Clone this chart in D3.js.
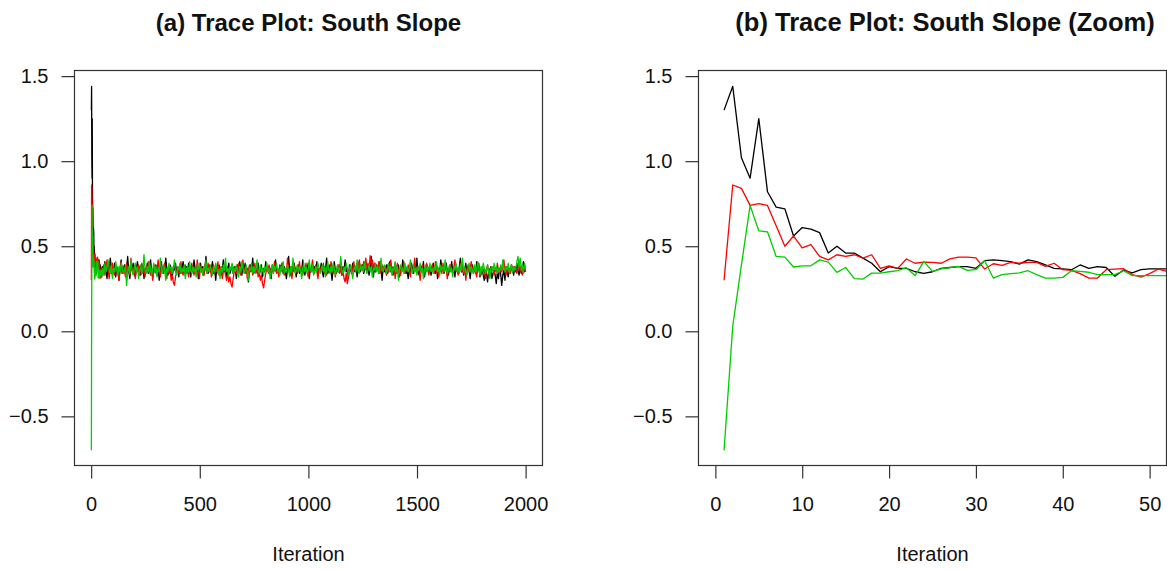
<!DOCTYPE html>
<meta charset="utf-8">
<style>
body { margin: 0; background: #fff; }
text { font-family: "Liberation Sans", Arial, Helvetica, sans-serif; fill: #111; }
.title { font-size: 24px; font-weight: bold; }
.tick-label { font-size: 20px; }
.axis-title { font-size: 20px; }
</style>
<body>
    <svg width="1167" height="569"></svg>
</body>
<script src="https://d3js.org/d3.v7.min.js"></script>
<script>
// first 52 iterations
const zoomIter = d3.range(1, 53);
const blackStart = [1.30,1.44,1.02,0.90,1.25,0.82,0.73,0.72,0.56,0.61,0.60,0.58,0.46,0.50,0.46,0.46,0.43,0.40,0.35,0.38,
    0.37,0.37,0.35,0.34,0.35,0.37,0.375,0.38,0.38,0.37,0.415,0.42,0.415,0.41,0.395,0.42,0.41,0.39,0.37,0.367,
    0.362,0.39,0.37,0.38,0.375,0.323,0.36,0.343,0.362,0.367,0.367,0.367];
const redStart = [0.30,0.86,0.84,0.74,0.75,0.74,0.62,0.50,0.56,0.49,0.51,0.44,0.42,0.45,0.44,0.45,0.43,0.45,0.37,0.385,
    0.37,0.425,0.40,0.407,0.405,0.40,0.426,0.436,0.436,0.432,0.366,0.397,0.387,0.405,0.40,0.405,0.405,0.382,0.40,0.362,
    0.358,0.339,0.313,0.313,0.362,0.366,0.368,0.333,0.319,0.339,0.366,0.352];
const greenStart = [-0.70,0.03,0.39,0.74,0.59,0.585,0.44,0.436,0.378,0.385,0.385,0.42,0.407,0.346,0.375,0.31,0.307,0.342,0.342,0.35,
    0.357,0.374,0.327,0.41,0.352,0.367,0.374,0.382,0.358,0.362,0.415,0.313,0.333,0.339,0.343,0.356,0.333,0.313,0.313,0.317,
    0.356,0.352,0.347,0.333,0.333,0.333,0.356,0.327,0.327,0.327,0.327,0.327];

// rest of the run (iterations 53 to 2000), one value read for every ~5 iterations
const tailFirst = 53, tailLast = 2000;
const blackTail = [
0.38,0.34,0.41,0.36,0.31,0.39,0.35,0.43,0.37,0.33,0.36,0.40,0.32,0.38,0.35,0.30,0.37,0.42,0.34,0.36,
0.39,0.33,0.37,0.44,0.35,0.31,0.38,0.36,0.40,0.34,0.32,0.37,0.41,0.35,0.38,0.33,0.36,0.39,0.31,0.37,
0.35,0.40,0.34,0.37,0.42,0.36,0.32,0.38,0.35,0.39,0.33,0.37,0.30,0.36,0.41,0.34,0.38,0.35,0.43,0.37,
0.33,0.36,0.39,0.34,0.31,0.38,0.36,0.40,0.35,0.37,0.32,0.39,0.34,0.37,0.41,0.36,0.33,0.38,0.35,0.40,
0.36,0.32,0.38,0.35,0.42,0.37,0.34,0.39,0.31,0.36,0.40,0.35,0.38,0.33,0.37,0.44,0.36,0.34,0.39,0.35,
0.37,0.41,0.34,0.36,0.30,0.38,0.35,0.39,0.37,0.33,0.36,0.42,0.35,0.38,0.32,0.37,0.40,0.34,0.36,0.39,
0.34,0.38,0.36,0.31,0.39,0.35,0.41,0.37,0.33,0.38,0.36,0.40,0.34,0.37,0.29,0.35,0.39,0.36,0.43,0.34,
0.38,0.35,0.37,0.40,0.33,0.36,0.39,0.32,0.37,0.35,0.41,0.36,0.38,0.34,0.37,0.31,0.39,0.35,0.36,0.42,
0.35,0.37,0.33,0.39,0.36,0.40,0.34,0.38,0.35,0.31,0.37,0.44,0.36,0.33,0.38,0.35,0.40,0.37,0.32,0.36,
0.39,0.34,0.37,0.35,0.42,0.36,0.33,0.38,0.36,0.40,0.31,0.37,0.35,0.39,0.34,0.38,0.36,0.41,0.33,0.37,
0.36,0.40,0.35,0.32,0.38,0.37,0.43,0.34,0.36,0.39,0.35,0.30,0.37,0.41,0.36,0.34,0.38,0.35,0.39,0.37,
0.33,0.38,0.36,0.42,0.35,0.37,0.31,0.39,0.36,0.34,0.40,0.37,0.35,0.38,0.32,0.36,0.41,0.35,0.37,0.39,
0.34,0.36,0.40,0.35,0.38,0.33,0.37,0.44,0.36,0.32,0.38,0.35,0.39,0.37,0.34,0.41,0.36,0.30,0.38,0.35,
0.37,0.39,0.34,0.36,0.41,0.35,0.38,0.33,0.37,0.40,0.36,0.34,0.39,0.32,0.37,0.35,0.42,0.36,0.38,0.34,
0.36,0.31,0.38,0.35,0.40,0.37,0.34,0.39,0.36,0.43,0.35,0.33,0.37,0.38,0.35,0.41,0.32,0.36,0.39,0.37,
0.35,0.38,0.33,0.37,0.40,0.36,0.34,0.39,0.31,0.37,0.35,0.42,0.36,0.38,0.34,0.37,0.40,0.35,0.33,0.38,
0.36,0.41,0.35,0.37,0.32,0.39,0.36,0.34,0.38,0.43,0.35,0.37,0.33,0.36,0.40,0.34,0.38,0.36,0.31,0.37,
0.39,0.35,0.37,0.34,0.41,0.36,0.38,0.32,0.35,0.37,0.33,0.30,0.36,0.34,0.29,0.35,0.32,0.38,0.31,0.34,
0.36,0.33,0.28,0.35,0.31,0.37,0.34,0.27,0.33,0.36,0.30,0.38,0.35,0.32,0.37,0.34,0.39,0.36,0.33,0.38,
0.35,0.40,0.36,0.33,0.38,0.34,0.37,0.41,0.35,0.36];
const redTail = [
0.35,0.39,0.33,0.37,0.42,0.36,0.31,0.38,0.34,0.40,0.36,0.33,0.39,0.35,0.37,0.30,0.36,0.41,0.34,0.38,
0.36,0.32,0.40,0.35,0.37,0.33,0.43,0.36,0.34,0.38,0.31,0.37,0.35,0.39,0.33,0.36,0.40,0.34,0.37,0.32,
0.38,0.35,0.41,0.36,0.33,0.37,0.30,0.35,0.39,0.34,0.36,0.42,0.35,0.32,0.38,0.36,0.34,0.40,0.35,0.31,
0.37,0.34,0.36,0.30,0.33,0.29,0.27,0.32,0.35,0.38,0.34,0.36,0.41,0.35,0.33,0.37,0.39,0.34,0.36,0.32,
0.38,0.35,0.40,0.36,0.33,0.37,0.34,0.42,0.36,0.31,0.38,0.35,0.37,0.33,0.39,0.36,0.34,0.40,0.35,0.37,
0.32,0.36,0.39,0.34,0.37,0.35,0.41,0.33,0.36,0.38,0.31,0.35,0.37,0.33,0.30,0.34,0.29,0.32,0.28,0.26,
0.31,0.35,0.38,0.34,0.36,0.40,0.35,0.33,0.37,0.42,0.36,0.34,0.38,0.31,0.36,0.39,0.35,0.37,0.33,0.36,
0.40,0.34,0.37,0.32,0.35,0.30,0.33,0.28,0.255,0.30,0.34,0.37,0.35,0.39,0.36,0.33,0.38,0.35,0.41,0.36,
0.34,0.37,0.32,0.38,0.35,0.40,0.36,0.33,0.37,0.35,0.43,0.36,0.34,0.38,0.31,0.36,0.39,0.35,0.37,0.34,
0.36,0.41,0.35,0.38,0.33,0.37,0.35,0.40,0.36,0.32,0.38,0.35,0.37,0.42,0.36,0.34,0.39,0.35,0.31,0.37,
0.35,0.38,0.36,0.40,0.34,0.37,0.33,0.39,0.36,0.35,0.41,0.37,0.34,0.38,0.32,0.36,0.35,0.39,0.34,0.37,
0.33,0.36,0.31,0.29,0.34,0.28,0.32,0.36,0.39,0.35,0.37,0.41,0.36,0.38,0.40,0.35,0.42,0.37,0.39,0.36,
0.41,0.38,0.43,0.37,0.40,0.36,0.445,0.39,0.42,0.37,0.40,0.35,0.38,0.36,0.41,0.34,0.37,0.39,0.35,0.38,
0.36,0.33,0.39,0.35,0.37,0.42,0.36,0.34,0.38,0.31,0.36,0.40,0.35,0.37,0.33,0.38,0.36,0.41,0.34,0.37,
0.35,0.39,0.36,0.32,0.38,0.35,0.37,0.43,0.36,0.34,0.38,0.35,0.30,0.36,0.39,0.34,0.37,0.35,0.40,0.36,
0.33,0.37,0.35,0.39,0.36,0.34,0.41,0.35,0.38,0.32,0.36,0.37,0.34,0.40,0.35,0.38,0.36,0.31,0.37,0.35,
0.39,0.36,0.34,0.38,0.42,0.35,0.37,0.33,0.36,0.40,0.35,0.38,0.34,0.37,0.30,0.36,0.39,0.35,0.37,0.41,
0.36,0.34,0.38,0.35,0.32,0.37,0.40,0.36,0.33,0.38,0.35,0.37,0.31,0.36,0.39,0.34,0.37,0.35,0.38,0.36,
0.33,0.37,0.35,0.40,0.36,0.34,0.38,0.35,0.37,0.42,0.36,0.33,0.38,0.35,0.37,0.34,0.39,0.36,0.35,0.38,
0.36,0.34,0.37,0.40,0.35,0.38,0.33,0.36,0.39,0.35];
const greenTail = [
0.37,0.33,0.40,0.35,0.38,0.42,0.36,0.34,0.39,0.31,0.37,0.35,0.41,0.36,0.33,0.38,0.35,0.40,0.37,0.34,
0.36,0.39,0.27,0.35,0.38,0.34,0.42,0.36,0.33,0.37,0.40,0.35,0.38,0.31,0.36,0.39,0.34,0.37,0.45,0.36,
0.34,0.38,0.35,0.41,0.37,0.33,0.36,0.40,0.35,0.38,0.32,0.37,0.35,0.43,0.36,0.34,0.39,0.36,0.30,0.37,
0.35,0.40,0.36,0.38,0.34,0.37,0.42,0.35,0.33,0.38,0.36,0.40,0.34,0.37,0.35,0.39,0.31,0.36,0.38,0.35,
0.41,0.36,0.34,0.38,0.35,0.37,0.32,0.39,0.36,0.40,0.35,0.37,0.33,0.38,0.36,0.42,0.34,0.37,0.35,0.39,
0.36,0.33,0.38,0.35,0.40,0.37,0.34,0.36,0.31,0.38,0.35,0.39,0.36,0.43,0.35,0.37,0.33,0.38,0.36,0.40,
0.34,0.37,0.35,0.39,0.36,0.32,0.38,0.35,0.41,0.37,0.34,0.36,0.39,0.35,0.30,0.37,0.36,0.40,0.34,0.38,
0.35,0.37,0.42,0.36,0.34,0.39,0.35,0.37,0.33,0.38,0.36,0.40,0.35,0.37,0.31,0.36,0.39,0.34,0.38,0.36,
0.40,0.35,0.37,0.33,0.38,0.36,0.41,0.34,0.37,0.35,0.39,0.36,0.32,0.38,0.35,0.43,0.37,0.34,0.36,0.39,
0.35,0.38,0.36,0.31,0.37,0.40,0.35,0.38,0.34,0.36,0.42,0.37,0.35,0.39,0.33,0.36,0.38,0.35,0.40,0.37,
0.34,0.36,0.39,0.35,0.38,0.32,0.37,0.41,0.36,0.34,0.38,0.35,0.40,0.37,0.33,0.36,0.39,0.35,0.37,0.44,
0.36,0.34,0.38,0.35,0.40,0.37,0.33,0.36,0.39,0.35,0.31,0.37,0.38,0.35,0.42,0.36,0.34,0.39,0.36,0.38,
0.35,0.41,0.37,0.34,0.36,0.39,0.35,0.38,0.32,0.37,0.36,0.40,0.35,0.38,0.34,0.37,0.43,0.36,0.35,0.39,
0.37,0.34,0.36,0.40,0.35,0.38,0.33,0.37,0.36,0.41,0.35,0.38,0.30,0.36,0.39,0.35,0.37,0.34,0.40,0.36,
0.38,0.35,0.37,0.42,0.36,0.34,0.39,0.35,0.37,0.33,0.38,0.36,0.40,0.35,0.37,0.31,0.36,0.39,0.35,0.38,
0.36,0.40,0.35,0.37,0.34,0.38,0.36,0.41,0.35,0.37,0.33,0.39,0.36,0.38,0.35,0.42,0.37,0.34,0.36,0.39,
0.35,0.37,0.32,0.38,0.36,0.40,0.35,0.37,0.34,0.39,0.36,0.43,0.35,0.38,0.36,0.33,0.37,0.40,0.35,0.38,
0.36,0.34,0.39,0.35,0.37,0.41,0.36,0.33,0.38,0.35,0.40,0.37,0.34,0.36,0.39,0.35,0.31,0.37,0.38,0.35,
0.40,0.36,0.38,0.34,0.37,0.35,0.39,0.36,0.42,0.37,0.35,0.38,0.36,0.40,0.34,0.37,0.39,0.35,0.38,0.36,
0.37,0.41,0.44,0.38,0.43,0.36,0.39,0.34,0.40,0.37];

const chainColors = ["#000000", "#ff0000", "#00cd00"];
const yTicks = [-0.5, 0.0, 0.5, 1.0, 1.5];
const leftXTicks = [0, 500, 1000, 1500, 2000];
const rightXTicks = [0, 10, 20, 30, 40, 50];
const titles = ["(a) Trace Plot: South Slope", "(b) Trace Plot: South Slope (Zoom)"];

function tailPoints(vals) {
    const step = (tailLast - tailFirst) / (vals.length - 1);
    return vals.map((v, i) => [tailFirst + i * step, v]);
}
function startPoints(vals) {
    return vals.map((v, i) => [zoomIter[i], v]);
}

const fullChains = [
    startPoints(blackStart).concat(tailPoints(blackTail)),
    startPoints(redStart).concat(tailPoints(redTail)),
    startPoints(greenStart).concat(tailPoints(greenTail))
];
const zoomChains = [startPoints(blackStart), startPoints(redStart), startPoints(greenStart)];

const svg = d3.select("svg");
const y = d3.scaleLinear().domain([-0.786, 1.536]).range([465, 70]);

function drawPanel(opts) {
    const x = d3.scaleLinear().domain(opts.xDomain).range([opts.left, opts.right]);
    const g = svg.append("g");

    g.append("clipPath").attr("id", opts.id)
        .append("rect")
        .attr("x", opts.left).attr("y", y.range()[1])
        .attr("width", opts.right - opts.left).attr("height", y.range()[0] - y.range()[1]);

    const line = d3.line().x(d => x(d[0])).y(d => y(d[1]));
    g.append("g").attr("clip-path", `url(#${opts.id})`)
        .selectAll("path")
        .data(opts.chains)
        .enter().append("path")
        .attr("d", line)
        .attr("fill", "none")
        .attr("stroke", (d, i) => chainColors[i])
        .attr("stroke-width", opts.lw)
        .attr("stroke-linejoin", "round");

    // box
    g.append("rect")
        .attr("x", opts.left + 0.5).attr("y", y.range()[1] + 0.5)
        .attr("width", opts.right - opts.left - 1).attr("height", y.range()[0] - y.range()[1])
        .attr("fill", "none").attr("stroke", "#333").attr("stroke-width", 1.2);

    const xAxis = g.append("g")
        .attr("transform", `translate(0,${y.range()[0] + 0.5})`)
        .call(d3.axisBottom(x).tickValues(opts.xTicks).tickSize(13).tickPadding(18).tickFormat(d3.format("d")));
    const yAxis = g.append("g")
        .attr("transform", `translate(${opts.left + 0.5},0)`)
        .call(d3.axisLeft(y).tickValues(yTicks).tickSize(13).tickPadding(13).tickFormat(d3.format(".1f")));

    [xAxis, yAxis].forEach(a => {
        a.select(".domain").remove();
        a.selectAll(".tick line").attr("stroke", "#333").attr("stroke-width", 1.2);
        a.selectAll(".tick text").attr("class", "tick-label").attr("font-size", null).attr("font-family", null)
            .attr("fill", "#111");
    });
    xAxis.selectAll(".tick text").attr("dy", "0.71em");
    yAxis.selectAll(".tick text").text(d => d3.format(".1f")(d).replace("-", "\u2212"));

    g.append("text").attr("class", "title")
        .attr("x", opts.titleX).attr("y", 31)
        .attr("font-size", opts.titleSize)
        .attr("text-anchor", "middle").text(opts.title);
    g.append("text").attr("class", "axis-title")
        .attr("x", (opts.left + opts.right) / 2).attr("y", 561)
        .attr("text-anchor", "middle").text("Iteration");
}

drawPanel({
    id: "clipA", left: 74, right: 543, xDomain: [-79, 2080], xTicks: leftXTicks,
    chains: fullChains, lw: 1.3, title: titles[0], titleX: 308.5, titleSize: "24px"
});
drawPanel({
    id: "clipB", left: 698, right: 1167, xDomain: [-2, 52], xTicks: rightXTicks,
    chains: zoomChains, lw: 1.3, title: titles[1], titleX: 945, titleSize: "25.5px"
});
d3.selectAll(".title").each(function () {
    this.style.fontSize = this.getAttribute("font-size");
});
</script>
